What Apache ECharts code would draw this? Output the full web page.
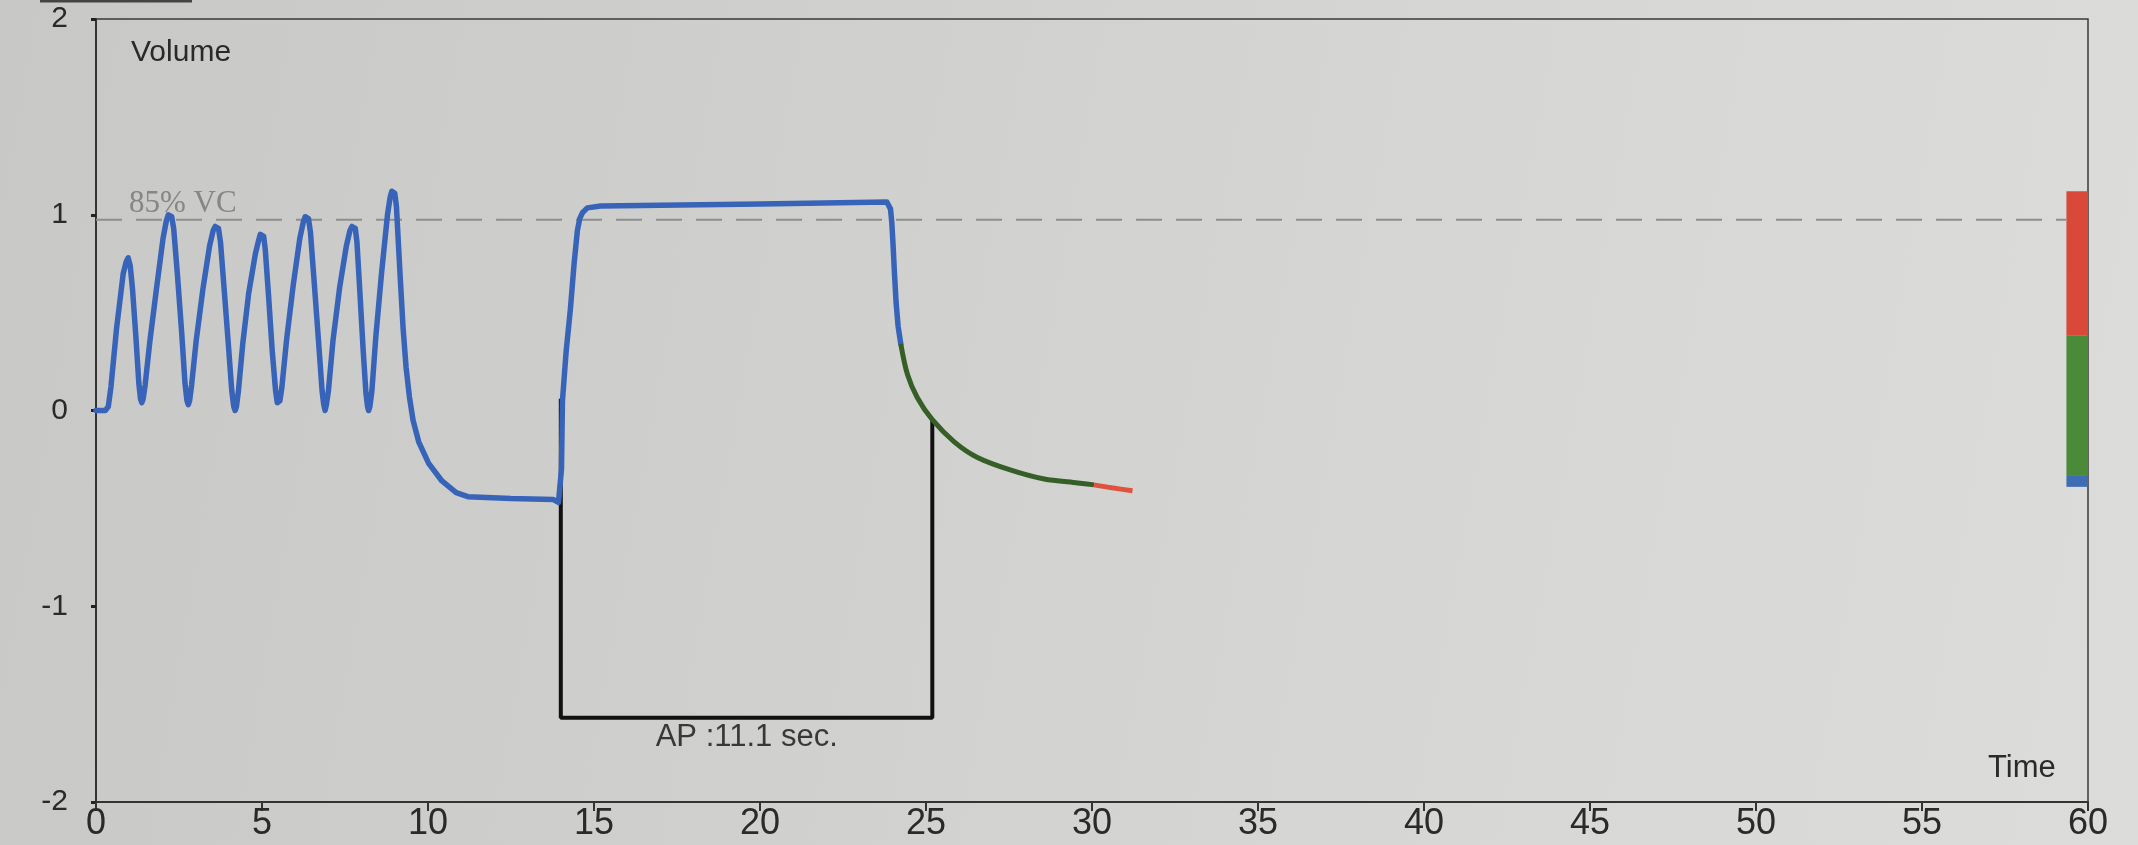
<!DOCTYPE html>
<html>
<head>
<meta charset="utf-8">
<script src="https://cdn.jsdelivr.net/npm/echarts@6/dist/echarts.min.js"></script>
<style>
html,body{margin:0;padding:0;width:2138px;height:845px;overflow:hidden;
background:linear-gradient(100deg,#c8c8c6 0%,#cfcfcd 35%,#d7d7d5 70%,#dcdcda 100%);}
#c{width:2138px;height:845px;}
</style>
</head>
<body>
<div id="c"></div>
<script>
// ---- data ----
const xTicks = [0,5,10,15,20,25,30,35,40,45,50,55,60];
const yTicks = [-2,-1,0,1,2];
const blueCurve = [
 [0,0],[0.28,0],[0.37,0.02],[0.45,0.12],[0.62,0.42],[0.82,0.7],[0.91,0.76],[0.97,0.78],[1.03,0.74],[1.1,0.62],[1.2,0.38],[1.29,0.14],[1.34,0.06],[1.38,0.04],[1.42,0.06],[1.48,0.13],
 [1.62,0.35],[1.82,0.62],[2.02,0.88],[2.12,0.97],[2.18,1.0],[2.23,1.01],[2.28,0.99],[2.34,0.93],[2.45,0.7],[2.58,0.4],[2.68,0.14],[2.74,0.05],[2.78,0.03],[2.82,0.05],[2.88,0.13],
 [3.02,0.36],[3.22,0.62],[3.42,0.84],[3.53,0.92],[3.59,0.94],[3.64,0.95],[3.69,0.93],[3.75,0.86],[3.86,0.62],[3.99,0.33],[4.09,0.1],[4.15,0.02],[4.19,0.0],[4.23,0.02],[4.29,0.1],
 [4.42,0.34],[4.6,0.6],[4.8,0.8],[4.9,0.87],[4.95,0.9],[5.0,0.91],[5.05,0.89],[5.1,0.82],[5.2,0.58],[5.31,0.3],[5.41,0.1],[5.46,0.04],[5.5,0.03],[5.54,0.05],[5.6,0.12],
 [5.74,0.36],[5.94,0.64],[6.14,0.88],[6.24,0.96],[6.3,0.99],[6.35,1.0],[6.4,0.98],[6.46,0.91],[6.57,0.66],[6.7,0.36],[6.81,0.1],[6.86,0.03],[6.9,0.0],[6.94,0.03],[7.0,0.1],
 [7.14,0.36],[7.34,0.63],[7.54,0.84],[7.65,0.92],[7.71,0.94],[7.76,0.95],[7.81,0.93],[7.86,0.86],[7.95,0.6],[8.05,0.3],[8.13,0.09],[8.18,0.02],[8.21,0.0],[8.25,0.02],[8.31,0.1],
 [8.43,0.38],[8.6,0.7],[8.78,1.0],[8.86,1.09],[8.91,1.12],[8.96,1.13],[9.0,1.11],[9.05,1.04],[9.1,0.88],[9.17,0.66],[9.25,0.42],[9.34,0.22],
 [9.44,0.07],[9.55,-0.05],[9.72,-0.16],[10.02,-0.27],[10.42,-0.36],[10.85,-0.42],[11.2,-0.44],[12.5,-0.45],[13.78,-0.455],[13.93,-0.47],[13.99,-0.48],
 [14.02,-0.3],[14.05,0.05],[14.16,0.3],[14.29,0.52],[14.4,0.75],[14.5,0.92],[14.57,0.98],[14.65,1.01],[14.8,1.035],[15.2,1.045],[20,1.055],
 [23.82,1.065],[23.88,1.06],[23.93,1.03],[23.97,0.96],[24.01,0.84],[24.05,0.7],[24.1,0.55],[24.16,0.43],[24.24,0.34]
];
const greenCurve = [
 [24.24,0.34],[24.44,0.185],[24.74,0.065],[25.19,-0.047],[25.85,-0.16],[26.55,-0.24],[27.56,-0.305],[28.56,-0.35],[29.57,-0.37],[30.06,-0.38]
];
const redCurve = [[30.06,-0.38],[30.6,-0.395],[31.22,-0.41]];
const apBox = [[14.0,0.06],[14.0,-1.57],[25.19,-1.57],[25.19,-0.047]];
const apLabel = {x:19.6, y:-1.57, text:'AP :11.1 sec.'};
const vcLevel = 0.975;
const vcRange = [0, 59.35];
const vcText = '85% VC';
const barX = [59.35, 60];
const barLevels = [1.12, 0.385, -0.33, -0.39];
const barColors = ['#d9493a', '#4b8a38', '#3e6db3'];
const yName = 'Volume';
const xName = 'Time';

// ---- chart ----
const chart = echarts.init(document.getElementById('c'));
const barAreas = barColors.map((c,i)=>[
  {xAxis:barX[0], yAxis:barLevels[i], itemStyle:{color:c}},
  {xAxis:barX[1], yAxis:barLevels[i+1]}
]);
const font = '"Liberation Sans", Arial, sans-serif';
const narrow = '"Liberation Sans Narrow", "Liberation Sans", Arial, sans-serif';
chart.setOption({
  animation:false,
  backgroundColor:'transparent',
  grid:{left:96,right:50,top:19,bottom:43,show:true,borderColor:'#3a3a3a',borderWidth:1.5,backgroundColor:'transparent'},
  xAxis:{type:'value',min:0,max:60,interval:5,
    axisLine:{show:true,onZero:false,lineStyle:{color:'#333',width:2}},
    axisTick:{show:true,length:9,lineStyle:{color:'#333',width:2}},
    axisLabel:{margin:4,fontSize:36,color:'#2a2a2a',fontFamily:narrow,
      formatter:v=>xTicks.includes(v)?String(v):''},
    splitLine:{show:false}},
  yAxis:{type:'value',min:-2,max:2,interval:1,
    axisLine:{show:true,onZero:false,lineStyle:{color:'#333',width:2}},
    axisTick:{show:true,length:5,lineStyle:{color:'#222',width:3}},
    axisLabel:{margin:28,fontSize:30,color:'#2a2a2a',fontFamily:font,
      formatter:v=>yTicks.includes(v)?String(v):''},
    splitLine:{show:false}},
  graphic:[
    {type:'text',left:131,top:38,style:{text:yName,fontSize:30,fill:'#2a2a2a',fontFamily:font}},
    {type:'text',left:1988,top:753,style:{text:xName,fontSize:31,fill:'#2a2a2a',fontFamily:font}},
    {type:'line',shape:{x1:40,y1:1,x2:192,y2:1},style:{stroke:'#444',lineWidth:3}}
  ],
  series:[
    {type:'line',data:[[vcRange[0],vcLevel],[vcRange[1],vcLevel]],
     symbol:'none',lineStyle:{color:'#8e8e8e',width:2,type:[26,14]},z:1},
    {type:'scatter',data:[[vcRange[0],vcLevel]],symbolSize:0,z:1,
     label:{show:true,formatter:vcText,position:'right',distance:0,offset:[33,-16],
        fontSize:31,color:'#747474',fontFamily:'"Liberation Serif", "Times New Roman", serif'}},
    {type:'line',data:apBox,symbol:'none',lineStyle:{color:'#111',width:4},z:2,
     markArea:{silent:true,data:barAreas}},
    {type:'line',data:blueCurve,symbol:'none',smooth:false,lineStyle:{color:'#3764b8',width:5.5,join:'round',cap:'round'},z:3},
    {type:'line',data:greenCurve,symbol:'none',smooth:0.3,lineStyle:{color:'#355f26',width:5},z:3},
    {type:'line',data:redCurve,symbol:'none',smooth:0.3,lineStyle:{color:'#e0523e',width:5},z:3},
    {type:'scatter',data:[[apLabel.x,apLabel.y]],symbolSize:0,z:4,
     label:{show:true,formatter:apLabel.text,position:'bottom',distance:4,fontSize:31,color:'#111',fontFamily:font}}
  ]
});
</script>
</body>
</html>
